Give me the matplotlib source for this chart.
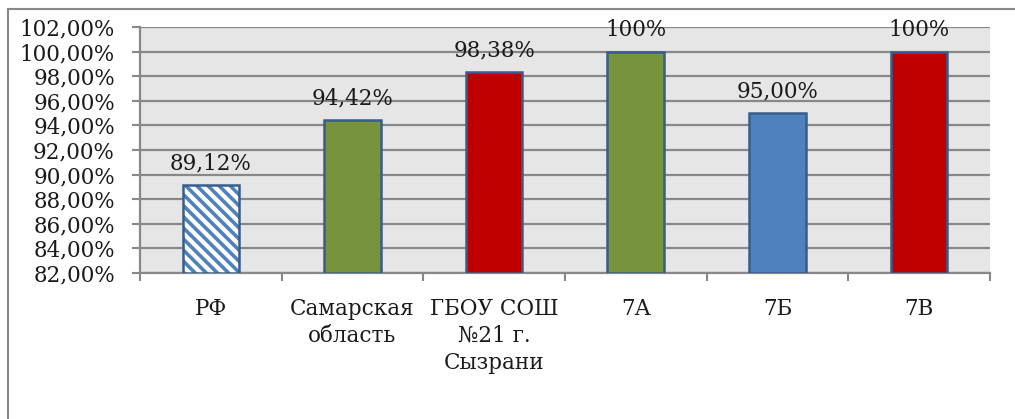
import matplotlib
matplotlib.use("Agg")
import matplotlib.pyplot as plt
from matplotlib.lines import Line2D

categories = ["РФ", "Самарская\nобласть", "ГБОУ СОШ\n№21 г.\nСызрани", "7А", "7Б", "7В"]
values = [89.12, 94.42, 98.38, 100.0, 95.00, 100.0]
value_labels = ["89,12%", "94,42%", "98,38%", "100%", "95,00%", "100%"]
yticks = [82, 84, 86, 88, 90, 92, 94, 96, 98, 100, 102]
ytick_labels = ["82,00%", "84,00%", "86,00%", "88,00%", "90,00%", "92,00%",
                "94,00%", "96,00%", "98,00%", "100,00%", "102,00%"]
colors = ["white", "#77933c", "#c00000", "#77933c", "#4f81bd", "#c00000"]

plt.rcParams['font.family'] = ['DejaVu Serif']
plt.rcParams['hatch.linewidth'] = 2.6

FS = 15.5
W, H = 1015, 419
fig = plt.figure(figsize=(W / 100, H / 100), dpi=100)
ax = fig.add_axes([140 / W, 1 - 273 / H, (990 - 140) / W, (273 - 27) / H])
ax.set_facecolor("#e6e6e6")

x = list(range(len(categories)))
bottoms = [82] * len(values)
heights = [v - 82 for v in values]

# hatched layer for first bar (blue stripes)
ax.bar(x[:1], heights[:1], bottom=bottoms[:1], width=0.40, color="white",
       edgecolor="#4f81bd", linewidth=0, hatch="\\\\\\", zorder=3)
ax.bar(x[1:], heights[1:], bottom=bottoms[1:], width=0.40, color=colors[1:],
       linewidth=0, zorder=3)
# outlines
ax.bar(x, heights, bottom=bottoms, width=0.40, fill=False,
       edgecolor="#385d8a", linewidth=1.8, zorder=4)

for xi, v, lab in zip(x, values, value_labels):
    ax.annotate(lab, (xi, v), xytext=(0, 15.5), textcoords="offset points",
                ha="center", va="center", fontsize=FS, color="#1a1a1a", zorder=5)

ax.set_ylim(82, 102)
ax.set_xlim(-0.5, len(categories) - 0.5)
ax.set_yticks(yticks)
ax.set_yticklabels(ytick_labels, fontsize=FS, color="#1a1a1a")
ax.yaxis.grid(True, color="#888888", linewidth=1.6, zorder=1)
ax.set_axisbelow(True)

ax.set_xticks([i - 0.5 for i in range(len(categories) + 1)])
ax.set_xticklabels([])
ax.set_xticks(x, minor=True)
ax.set_xticklabels(categories, minor=True, fontsize=FS, color="#1a1a1a",
                   linespacing=1.3, va="top")
ax.tick_params(axis="x", which="minor", length=0, pad=18)
ax.tick_params(axis="x", which="major", length=6, width=1.5, color="#888888", direction="out")
ax.tick_params(axis="y", length=6, width=1.5, color="#888888", pad=12)

for s in ["top", "right"]:
    ax.spines[s].set_visible(False)
for s in ["left", "bottom"]:
    ax.spines[s].set_color("#888888")
    ax.spines[s].set_linewidth(1.6)

# outer chart frame (partially visible)
fig.add_artist(Line2D([8 / W, 8 / W], [0, 1 - 9 / H], color="#888888", linewidth=1.5))
fig.add_artist(Line2D([8 / W, 1], [1 - 9 / H, 1 - 9 / H], color="#888888", linewidth=1.5))

fig.savefig("out.png", dpi=100)
